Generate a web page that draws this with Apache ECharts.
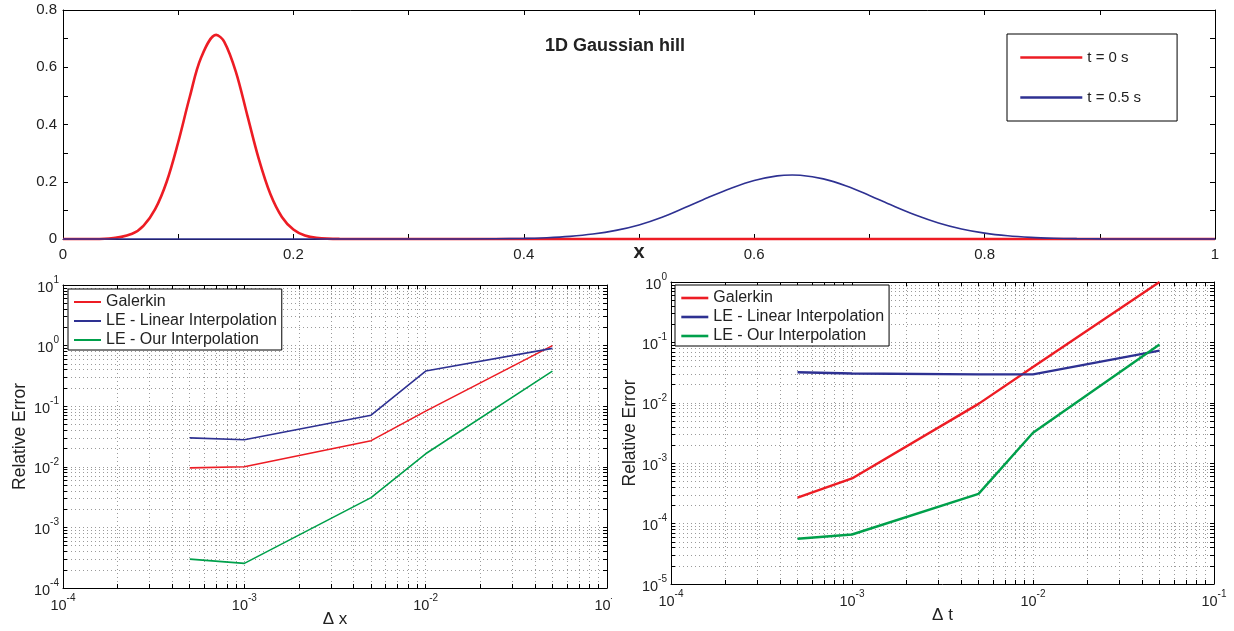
<!DOCTYPE html>
<html>
<head>
<meta charset="utf-8">
<script src="https://cdn.jsdelivr.net/npm/echarts@6/dist/echarts.min.js"></script>
<style>
html,body{margin:0;padding:0;background:#fff;}
#c{width:1234px;height:631px;}
</style>
</head>
<body>
<div id="c"></div>
<script>
// ---------- Top panel: 1D Gaussian hill ----------
const redX  = [0, 0.02, 0.04, 0.06, 0.07, 0.08, 0.09, 0.10, 0.11, 0.12, 0.133, 0.14, 0.15, 0.16, 0.17, 0.18, 0.19, 0.20, 0.21, 0.22, 0.24, 0.26, 0.30, 0.5, 0.7, 0.9, 1.0];
const redY  = [0, 0, 0.002, 0.0185, 0.047, 0.104, 0.200, 0.338, 0.496, 0.635, 0.713, 0.689, 0.585, 0.432, 0.279, 0.157, 0.077, 0.033, 0.012, 0.004, 0.0003, 0, 0, 0, 0, 0, 0];
const blueX = [0, 0.2, 0.3, 0.35, 0.40, 0.42, 0.44, 0.46, 0.48, 0.50, 0.52, 0.54, 0.56, 0.58, 0.60, 0.62, 0.633, 0.64, 0.66, 0.68, 0.70, 0.72, 0.74, 0.76, 0.78, 0.80, 0.82, 0.84, 0.86, 0.88, 0.90, 0.95, 1.0];
const blueY = [0, 0, 0, 0.0002, 0.0021, 0.0046, 0.0092, 0.0172, 0.0301, 0.0491, 0.0760, 0.1100, 0.1450, 0.1775, 0.2045, 0.2206, 0.2236, 0.2227, 0.2101, 0.1851, 0.1522, 0.1169, 0.0839, 0.0562, 0.0351, 0.0205, 0.0112, 0.0057, 0.0027, 0.0012, 0.0005, 0, 0];
const topNames = ['t = 0 s', 't = 0.5 s'];

// ---------- Bottom-left: error vs dx ----------
const dxVals     = [5e-4, 1e-3, 5e-3, 1e-2, 5e-2];
const galerkinDx = [0.0096, 0.0100, 0.0270, 0.083, 1.0];
const linearDx   = [0.030, 0.028, 0.071, 0.38, 0.90];
const oursDx     = [0.00030, 0.000255, 0.0031, 0.0164, 0.38];

// ---------- Bottom-right: error vs dt ----------
const dtVals     = [5e-4, 1e-3, 5e-3, 1e-2, 5e-2];
const galerkinDt = [0.00027, 0.00056, 0.0096, 0.039, 1.0];
const linearDt   = [0.032, 0.0305, 0.0295, 0.0295, 0.073];
const oursDt     = [0.000056, 0.000066, 0.00031, 0.0032, 0.092];

const errNames = ['Galerkin', 'LE - Linear Interpolation', 'LE - Our Interpolation'];

// tick positions for log axes (decade + 2..9 subdivisions)
function logTicks(lo, hi) { const t = []; for (let e = lo; e < hi; e++) { for (let k = 1; k <= 9; k++) t.push(+(k * Math.pow(10, e)).toPrecision(3)); } t.push(Math.pow(10, hi)); return t; }
function decades(lo, hi) { const t = []; for (let e = lo; e <= hi; e++) t.push(Math.pow(10, e)); return t; }

const RED = '#ed1c24', BLUE = '#2e3192', GREEN = '#00a04b';
const FONT = 'Liberation Sans, Arial, sans-serif';
const TXT = '#222';

const zip = (a, b) => a.map((v, i) => [v, b[i]]);

const supFmt = v => '{b|10}{s|' + Math.round(Math.log10(v)) + '}';
const supRich = { b: { fontSize: 14.5, fontFamily: FONT, color: TXT, lineHeight: 20, verticalAlign: 'bottom' }, s: { fontSize: 10, fontFamily: FONT, color: TXT, lineHeight: 20, verticalAlign: 'top' } };

function logAxis(grid, pos, lo, hi, main, isY) {
  return {
    type: 'log', logBase: 10, gridIndex: grid, position: pos,
    min: Math.pow(10, lo), max: Math.pow(10, hi),
    axisLine: { show: true, onZero: false, lineStyle: { color: '#000', width: 1 } },
    axisTick: { show: true, inside: true, length: 4, customValues: logTicks(lo, hi), lineStyle: { color: '#000' } },
    axisLabel: { show: main, customValues: decades(lo, hi), formatter: supFmt, rich: supRich, margin: isY ? 4 : 5 },
    splitLine: { show: main, lineStyle: { color: '#9a9a9a', type: [1, 3], width: 1 } }
  };
}

const topXAxisBase = {
  type: 'value', gridIndex: 0, min: 0, max: 1, interval: 0.1,
  axisLine: { show: true, onZero: false, lineStyle: { color: '#000' } },
  axisTick: { show: true, inside: true, length: 5, lineStyle: { color: '#000' } },
  splitLine: { show: false }
};
const topYAxisBase = {
  type: 'value', gridIndex: 0, min: 0, max: 0.8, interval: 0.1,
  axisLine: { show: true, onZero: false, lineStyle: { color: '#000' } },
  axisTick: { show: true, inside: true, length: 5, lineStyle: { color: '#000' } },
  splitLine: { show: false }
};
const evenLabel = v => (Math.round(v * 10) % 2 === 0 ? String(+v.toFixed(1)) : '');

const legendCommon = {
  orient: 'vertical', borderColor: '#000', borderWidth: 1, backgroundColor: '#fff',
  itemStyle: { opacity: 0 }
};

const option = {
  animation: false,
  backgroundColor: '#fff',
  textStyle: { fontFamily: FONT },
  title: {
    text: '1D Gaussian hill', left: 610, top: 32, textAlign: 'center',
    textStyle: { fontSize: 18, fontWeight: 'bold', color: TXT, fontFamily: FONT }
  },
  grid: [
    { left: 63, top: 10, width: 1152, height: 229 },
    { left: 63, top: 285, width: 544, height: 303 },
    { left: 671, top: 282, width: 543, height: 302 }
  ],
  legend: [
    Object.assign({}, legendCommon, {
      data: topNames, left: 1007, top: 34,
      itemWidth: 62, itemHeight: 14, itemGap: 25, padding: [16, 36, 16, 12],
      lineStyle: { width: 2.6 },
      textStyle: { fontSize: 15, color: TXT, fontFamily: FONT }
    }),
    Object.assign({}, legendCommon, {
      data: errNames, left: 68, top: 289,
      itemWidth: 27, itemHeight: 16, itemGap: 3, padding: [5, 5, 2, 5],
      lineStyle: { width: 2 },
      textStyle: { fontSize: 16, color: TXT, fontFamily: FONT }
    }),
    Object.assign({}, legendCommon, {
      data: errNames, left: 675, top: 285,
      itemWidth: 27, itemHeight: 16, itemGap: 3, padding: [5, 5, 2, 5],
      lineStyle: { width: 2.6 },
      textStyle: { fontSize: 16, color: TXT, fontFamily: FONT }
    })
  ],
  xAxis: [
    Object.assign({}, topXAxisBase, {
      position: 'bottom',
      name: 'x', nameLocation: 'middle', nameGap: 3, nameMoveOverlap: false,
      nameTextStyle: { fontSize: 20, fontWeight: 'bold', color: TXT, fontFamily: FONT, verticalAlign: 'top' },
      axisLabel: { show: true, formatter: evenLabel, fontSize: 15, color: TXT, margin: 8, fontFamily: FONT }
    }),
    Object.assign({}, topXAxisBase, { position: 'top', axisLabel: { show: false } }),
    Object.assign(logAxis(1, 'bottom', -4, -1, true, false), {
      name: 'Δ x', nameLocation: 'middle', nameGap: 23, nameMoveOverlap: false,
      nameTextStyle: { fontSize: 17, color: TXT, fontFamily: FONT, verticalAlign: 'top' }
    }),
    logAxis(1, 'top', -4, -1, false, false),
    Object.assign(logAxis(2, 'bottom', -4, -1, true, false), {
      name: 'Δ t', nameLocation: 'middle', nameGap: 23, nameMoveOverlap: false,
      nameTextStyle: { fontSize: 17, color: TXT, fontFamily: FONT, verticalAlign: 'top' }
    }),
    logAxis(2, 'top', -4, -1, false, false)
  ],
  yAxis: [
    Object.assign({}, topYAxisBase, {
      position: 'left',
      axisLabel: { show: true, formatter: evenLabel, fontSize: 15, color: TXT, margin: 6, fontFamily: FONT }
    }),
    Object.assign({}, topYAxisBase, { position: 'right', axisLabel: { show: false } }),
    Object.assign(logAxis(1, 'left', -4, 1, true, true), {
      name: 'Relative Error', nameLocation: 'middle', nameGap: 34, nameMoveOverlap: false,
      nameTextStyle: { fontSize: 17.5, color: TXT, fontFamily: FONT }
    }),
    logAxis(1, 'right', -4, 1, false, true),
    Object.assign(logAxis(2, 'left', -5, 0, true, true), {
      name: 'Relative Error', nameLocation: 'middle', nameGap: 32, nameMoveOverlap: false,
      nameTextStyle: { fontSize: 17.5, color: TXT, fontFamily: FONT }
    }),
    logAxis(2, 'right', -5, 0, false, true)
  ],
  series: [
    { name: topNames[0], type: 'line', xAxisIndex: 0, yAxisIndex: 0, data: zip(redX, redY), smooth: 0.35, symbol: 'none', clip: false, color: RED, lineStyle: { width: 2.6, color: RED } },
    { name: topNames[1], type: 'line', xAxisIndex: 0, yAxisIndex: 0, data: zip(blueX, blueY), smooth: 0.35, symbol: 'none', clip: false, color: BLUE, lineStyle: { width: 1.6, color: BLUE } },

    { name: errNames[0], type: 'line', xAxisIndex: 2, yAxisIndex: 2, data: zip(dxVals, galerkinDx), symbol: 'none', color: RED, lineStyle: { width: 1.6, color: RED } },
    { name: errNames[1], type: 'line', xAxisIndex: 2, yAxisIndex: 2, data: zip(dxVals, linearDx), symbol: 'none', color: BLUE, lineStyle: { width: 1.6, color: BLUE } },
    { name: errNames[2], type: 'line', xAxisIndex: 2, yAxisIndex: 2, data: zip(dxVals, oursDx), symbol: 'none', color: GREEN, lineStyle: { width: 1.6, color: GREEN } },

    { name: errNames[0], type: 'line', xAxisIndex: 4, yAxisIndex: 4, data: zip(dtVals, galerkinDt), symbol: 'none', color: RED, lineStyle: { width: 2.4, color: RED } },
    { name: errNames[1], type: 'line', xAxisIndex: 4, yAxisIndex: 4, data: zip(dtVals, linearDt), symbol: 'none', color: BLUE, lineStyle: { width: 2.4, color: BLUE } },
    { name: errNames[2], type: 'line', xAxisIndex: 4, yAxisIndex: 4, data: zip(dtVals, oursDt), symbol: 'none', color: GREEN, lineStyle: { width: 2.4, color: GREEN } }
  ],
  graphic: [
    { type: 'rect', left: 612, top: 591, shape: { width: 22, height: 24 }, style: { fill: '#fff' }, z: 100 }
  ]
};

const chart = echarts.init(document.getElementById('c'), null, { renderer: 'canvas' });
chart.setOption(option);
</script>
</body>
</html>
